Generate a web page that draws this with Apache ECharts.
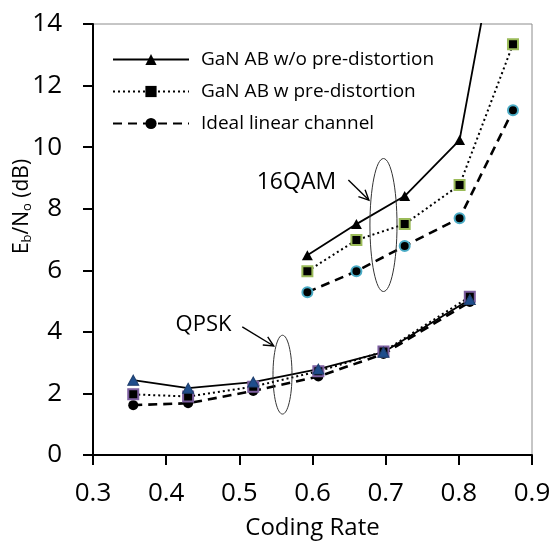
<!DOCTYPE html>
<html>
<head>
<meta charset="utf-8">
<script src="https://cdn.jsdelivr.net/npm/echarts@6/dist/echarts.min.js"></script>
<style>
  html, body { margin: 0; padding: 0; background: #fff; }
  #chart { width: 554px; height: 543px; }
</style>
</head>
<body>
<div id="chart"></div>
<script>
const seriesNames = ["GaN AB w/o pre-distortion", "GaN AB w pre-distortion", "Ideal linear channel"];
const xTicks = [0.3, 0.4, 0.5, 0.6, 0.7, 0.8, 0.9];
const yTicks = [0, 2, 4, 6, 8, 10, 12, 14];

// QPSK
const qpskRate = [0.355, 0.43, 0.519, 0.608, 0.697, 0.815];
const qpskWithout = [2.43, 2.17, 2.37, 2.79, 3.34, 5.05];
const qpskWith = [1.97, 1.9, 2.22, 2.72, 3.36, 5.14];
const qpskIdeal = [1.62, 1.68, 2.08, 2.55, 3.28, 4.97];

// 16QAM (last w/o point runs off the top of the plot)
const qamRate = [0.593, 0.66, 0.726, 0.801, 0.874];
const qamWithout = [6.49, 7.5, 8.41, 10.23, 19.6];
const qamWith = [5.97, 6.98, 7.5, 8.77, 13.34];
const qamIdeal = [5.29, 5.97, 6.79, 7.69, 11.2];

const groupLabels = ["16QAM", "QPSK"];

(function () {
  const font = "'Open Sans', 'Noto Sans', sans-serif";
  const chart = echarts.init(document.getElementById("chart"));

  const lineStyles = [
    { color: "#000", width: 1.8, type: "solid" },
    { color: "#000", width: 2, type: [2, 3] },
    { color: "#000", width: 2.6, type: [9, 6] }
  ];
  const symbols = [
    { symbol: "triangle", symbolSize: [11, 10] },
    { symbol: "rect", symbolSize: 10 },
    { symbol: "circle", symbolSize: 10 }
  ];
  const qpskMarks = [
    { color: "#1f4e8c", borderColor: "#1f3f6e", borderWidth: 1 },
    { color: "#000", borderColor: "#7d5fa0", borderWidth: 2 },
    { color: "#000", borderColor: "#000", borderWidth: 0 }
  ];
  const qamMarks = [
    { color: "#000", borderColor: "#000", borderWidth: 0 },
    { color: "#000", borderColor: "#9bbb59", borderWidth: 2 },
    { color: "#000", borderColor: "#4bacc6", borderWidth: 2 }
  ];

  function makeSeries(i, xs, ys, marks) {
    return {
      name: seriesNames[i],
      type: "line",
      data: xs.map((x, k) => [x, ys[k]]),
      symbol: symbols[i].symbol,
      symbolSize: symbols[i].symbolSize,
      lineStyle: lineStyles[i],
      itemStyle: marks[i],
      emphasis: { disabled: true },
      clip: true,
      animation: false
    };
  }

  // draw order: ideal, with, without (without on top)
  const series = [];
  [2, 1, 0].forEach((i) => {
    const q = [qamWithout, qamWith, qamIdeal][i];
    const p = [qpskWithout, qpskWith, qpskIdeal][i];
    series.push(makeSeries(i, qamRate, q, qamMarks));
    series.push(makeSeries(i, qpskRate, p, qpskMarks));
  });

  chart.setOption({
    animation: false,
    grid: {
      left: 93, right: 22, top: 24, bottom: 88,
      containLabel: false,
      outerBoundsMode: "none",
      show: true, borderColor: "#8c8c8c", borderWidth: 1
    },
    legend: {
      orient: "vertical",
      left: 107,
      top: 45,
      itemWidth: 76,
      itemHeight: 14,
      itemGap: 13,
      textStyle: { fontFamily: font, fontSize: 19, color: "#000", padding: [0, 0, 0, 7] },
      data: seriesNames.map((name) => ({
        name,
        itemStyle: { color: "#000", borderColor: "#000", borderWidth: 0 }
      }))
    },
    xAxis: {
      type: "value",
      min: xTicks[0],
      max: xTicks[xTicks.length - 1],
      interval: 0.1,
      name: "Coding Rate",
      nameLocation: "middle",
      nameGap: 61,
      nameTextStyle: { fontFamily: font, fontSize: 24, color: "#000" },
      axisLine: { onZero: false, lineStyle: { color: "#000", width: 2 } },
      axisTick: { show: true, inside: false, length: 10, lineStyle: { color: "#000", width: 2 } },
      axisLabel: {
        fontFamily: font, fontSize: 26, color: "#000", margin: 26,
        formatter: (v) => v.toFixed(1)
      },
      splitLine: { show: false }
    },
    yAxis: {
      type: "value",
      min: yTicks[0],
      max: yTicks[yTicks.length - 1],
      interval: 2,
      name: "{m|E}{s|b}{m|/N}{s|o}{m| (dB)}",
      nameLocation: "middle",
      nameGap: 59,
      nameMoveOverlap: false,
      nameTextStyle: {
        padding: [0, 0, 0, 66],
        rich: {
          m: { fontFamily: font, fontSize: 21, color: "#000" },
          s: { fontFamily: font, fontSize: 13, color: "#000", verticalAlign: "bottom", padding: [10, 0, 0, 0] }
        }
      },
      axisLine: { onZero: false, lineStyle: { color: "#000", width: 2 } },
      axisTick: { show: true, inside: false, length: 10, lineStyle: { color: "#000", width: 2 } },
      axisLabel: { fontFamily: font, fontSize: 26, color: "#000", margin: 31 },
      splitLine: { show: false }
    },
    series
  });

  // annotations placed in data coordinates
  const notes = [
    { label: [0.578, 8.86], size: 23, from: [0.649, 8.93], to: [0.677, 8.28], center: [0.697, 7.47], half: [0.0185, 2.16] },
    { label: [0.451, 4.22], size: 22, from: [0.504, 4.16], to: [0.547, 3.54], center: [0.559, 2.61], half: [0.013, 1.28] }
  ];
  const px = (p) => chart.convertToPixel({ gridIndex: 0 }, p);
  const graphic = [];
  notes.forEach((n, i) => {
    const c = px(n.center);
    const e = px([n.center[0] + n.half[0], n.center[1] + n.half[1]]);
    graphic.push({
      type: "ellipse",
      shape: { cx: c[0], cy: c[1], rx: Math.abs(e[0] - c[0]), ry: Math.abs(c[1] - e[1]) },
      style: { fill: null, stroke: "#333", lineWidth: 1 },
      z: 10
    });
    const a = px(n.from);
    const b = px(n.to);
    const ang = Math.atan2(b[1] - a[1], b[0] - a[0]);
    const head = 11;
    const h1 = [b[0] - head * Math.cos(ang - 0.45), b[1] - head * Math.sin(ang - 0.45)];
    const h2 = [b[0] - head * Math.cos(ang + 0.45), b[1] - head * Math.sin(ang + 0.45)];
    graphic.push({
      type: "polyline",
      shape: { points: [a, b] },
      style: { stroke: "#000", lineWidth: 1.4, fill: null },
      z: 10
    });
    graphic.push({
      type: "polyline",
      shape: { points: [h1, b, h2] },
      style: { stroke: "#000", lineWidth: 1.4, fill: null },
      z: 10
    });
    const t = px(n.label);
    graphic.push({
      type: "text",
      x: t[0],
      y: t[1],
      style: {
        text: groupLabels[i],
        fontFamily: font,
        fontSize: n.size,
        fill: "#000",
        align: "center",
        verticalAlign: "middle"
      },
      z: 10
    });
  });
  chart.setOption({ graphic });
})();
</script>
</body>
</html>
